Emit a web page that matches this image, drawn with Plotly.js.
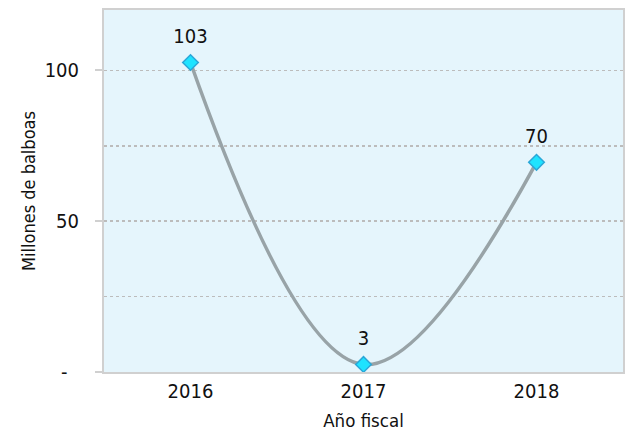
<!DOCTYPE html>
<html><head><meta charset="utf-8">
<script src="https://cdn.plot.ly/plotly-3.0.1.min.js"></script>
<style>html,body{margin:0;padding:0;background:#fff}#chart{width:626px;height:440px}</style>
</head><body><div id="chart"></div>
<script>
const years = ["2016", "2017", "2018"];
const values = [102.6, 2.5, 69.5];
const labels = ["103", "3", "70"];
const yTickVals = [0, 50, 100];
const yTickText = ["-\u00a0\u00a0", "50", "100"];
const yMinorVals = [25, 75];

const FONT = '"DejaVu Sans Condensed", "Liberation Sans Narrow", "Liberation Sans", sans-serif';

Plotly.newPlot('chart', [{
  type: 'scatter',
  mode: 'lines+markers',
  x: years,
  y: values,
  line: {shape: 'spline', smoothing: 1.1, color: '#98a3a7', width: 3.5},
  marker: {symbol: 'diamond', size: 12, color: '#1ee3ff', line: {color: '#2aa7d8', width: 1.5}},
  cliponaxis: false,
  hoverinfo: 'skip'
}, {
  type: 'scatter',
  mode: 'markers+text',
  x: years,
  y: values,
  text: labels,
  textposition: 'top center',
  textfont: {family: FONT, size: 20, color: '#111'},
  marker: {size: 22, opacity: 0},
  cliponaxis: false,
  hoverinfo: 'skip'
}], {
  width: 626, height: 440,
  margin: {l: 104, r: 3, t: 10, b: 68},
  paper_bgcolor: '#ffffff',
  plot_bgcolor: '#e5f5fc',
  showlegend: false,
  font: {family: FONT, size: 20, color: '#111'},
  xaxis: {
    type: 'category',
    range: [-0.5, 2.5],
    showgrid: false,
    showline: true, linecolor: '#d0d0d0', linewidth: 2, mirror: true,
    ticks: '',
    tickfont: {family: FONT, size: 20, color: '#111'},
    title: {text: 'Año fiscal', font: {family: FONT, size: 18.5, color: '#111'}, standoff: 12},
    fixedrange: true
  },
  yaxis: {
    range: [0, 120],
    tickvals: yTickVals,
    ticktext: yTickText,
    ticks: 'outside', ticklen: 7, tickcolor: '#d0d0d0', tickwidth: 2,
    ticklabelstandoff: 12,
    showgrid: true, gridcolor: '#bcbcbc', griddash: 'dot', gridwidth: 1.5,
    minor: {tickvals: yMinorVals, showgrid: true, gridcolor: '#bcbcbc', griddash: 'dot', gridwidth: 1.5, ticks: ''},
    zeroline: false,
    showline: true, linecolor: '#d0d0d0', linewidth: 2, mirror: true,
    tickfont: {family: FONT, size: 20, color: '#111'},
    title: {text: 'Millones de balboas', font: {family: FONT, size: 18, color: '#111'}, standoff: 4},
    fixedrange: true
  }
}, {staticPlot: true});
</script></body></html>
